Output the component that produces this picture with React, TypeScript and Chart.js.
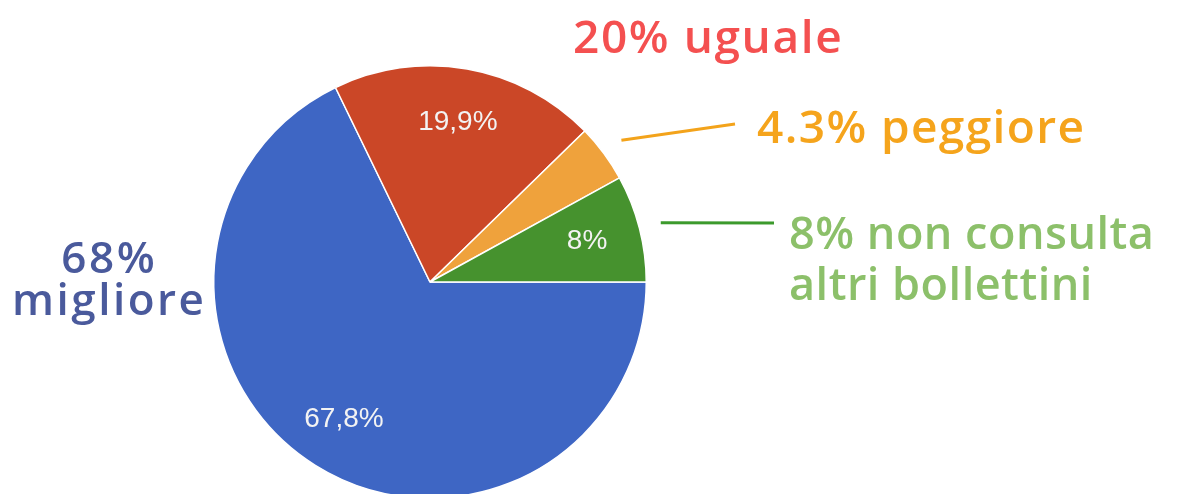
import React, { useEffect, useRef } from "react";
import { Chart, registerables } from "chart.js";

Chart.register(...registerables);

const categories = ["migliore", "uguale", "peggiore", "non consulta altri bollettini"];
const values = [67.8, 19.9, 4.3, 8.0];
const sliceColors = ["#3e66c4", "#cb4727", "#efa23c", "#46922e"];

const redNote = ["20% uguale"];
const orangeNote = ["4.3% peggiore"];
const greenNote = ["8% non consulta", "altri bollettini"];
const blueNote = ["68%", "migliore"];

const fmt = (v: number) => {
  const s = Number.isInteger(v) ? String(v) : v.toFixed(1).replace(".", ",");
  return s + "%";
};

const labelPlugin = {
  id: "labels",
  afterDraw(chart: any) {
    const ctx = chart.ctx as any;
    const meta = chart.getDatasetMeta(0);
    ctx.save();
    // in-slice labels
    ctx.font = '28px "Liberation Sans", Arial, sans-serif';
    ctx.fillStyle = "#f3f3f3";
    ctx.textAlign = "center";
    ctx.textBaseline = "middle";
    const arcs: any[] = meta.data;
    arcs.forEach((arc: any, i: number) => {
      if (values[i] < 5) return;
      const p = arc.getProps(["x", "y", "startAngle", "endAngle", "outerRadius"], true);
      const mid = (p.startAngle + p.endAngle) / 2;
      const r = p.outerRadius * 0.75;
      ctx.fillText(fmt(values[i]), p.x + Math.cos(mid) * r, p.y + Math.sin(mid) * r);
    });

    // leader lines
    const leader = (i: number, ex: number, ey: number, color: string) => {
      const p = arcs[i].getProps(["x", "y", "startAngle", "endAngle", "outerRadius"], true);
      const mid = (p.startAngle + p.endAngle) / 2;
      const r = p.outerRadius + 22;
      ctx.beginPath();
      ctx.moveTo(p.x + Math.cos(mid) * r, p.y + Math.sin(mid) * r);
      ctx.lineTo(ex, ey);
      ctx.strokeStyle = color;
      ctx.lineWidth = 3;
      ctx.stroke();
    };
    leader(2, 735, 124, "#f3a31b");
    leader(3, 774, 223, "#3c9a2c");

    // annotations
    ctx.textBaseline = "alphabetic";
    const fam = '"Open Sans", "Noto Sans", sans-serif';
    ctx.fillStyle = "#f45050";
    ctx.textAlign = "left";
    ctx.font = "600 46px " + fam;
    ctx.letterSpacing = "1.6px";
    ctx.fillText(redNote[0], 573, 53);

    ctx.fillStyle = "#f5a41c";
    ctx.letterSpacing = "1.4px";
    ctx.fillText(orangeNote[0], 757, 143);

    ctx.fillStyle = "#8cc06a";
    ctx.font = "600 45px " + fam;
    ctx.letterSpacing = "0.5px";
    ctx.fillText(greenNote[0], 789, 249);
    ctx.fillText(greenNote[1], 789, 300);

    ctx.fillStyle = "#4a5a9c";
    ctx.font = "600 44px " + fam;
    ctx.letterSpacing = "2.5px";
    const w0 = ctx.measureText(blueNote[0]).width;
    const w1 = ctx.measureText(blueNote[1]).width;
    ctx.fillText(blueNote[0], 108 - w0 / 2 + 1.25, 273);
    ctx.fillText(blueNote[1], 108 - w1 / 2 + 1.25, 315);
    ctx.restore();
  },
};

export default function App() {
  const ref = useRef<HTMLCanvasElement>(null);
  useEffect(() => {
    const chart = new Chart(ref.current!, {
      type: "pie",
      data: {
        labels: categories,
        datasets: [
          {
            data: values,
            backgroundColor: sliceColors,
            borderColor: "#ffffff",
            borderWidth: 1.5,
          },
        ],
      },
      options: {
        responsive: false,
        animation: false,
        rotation: 90,
        layout: { padding: { left: 213, right: 531, top: 65, bottom: 65 } },
        plugins: { legend: { display: false }, tooltip: { enabled: false } },
      },
      plugins: [labelPlugin],
    });
    return () => chart.destroy();
  }, []);
  return (
    <div style={{ position: "fixed", left: 0, top: 0, width: 1178, height: 494, overflow: "hidden", background: "#fff" }}>
      <canvas ref={ref} width={1178} height={564} style={{ display: "block" }} />
    </div>
  );
}
